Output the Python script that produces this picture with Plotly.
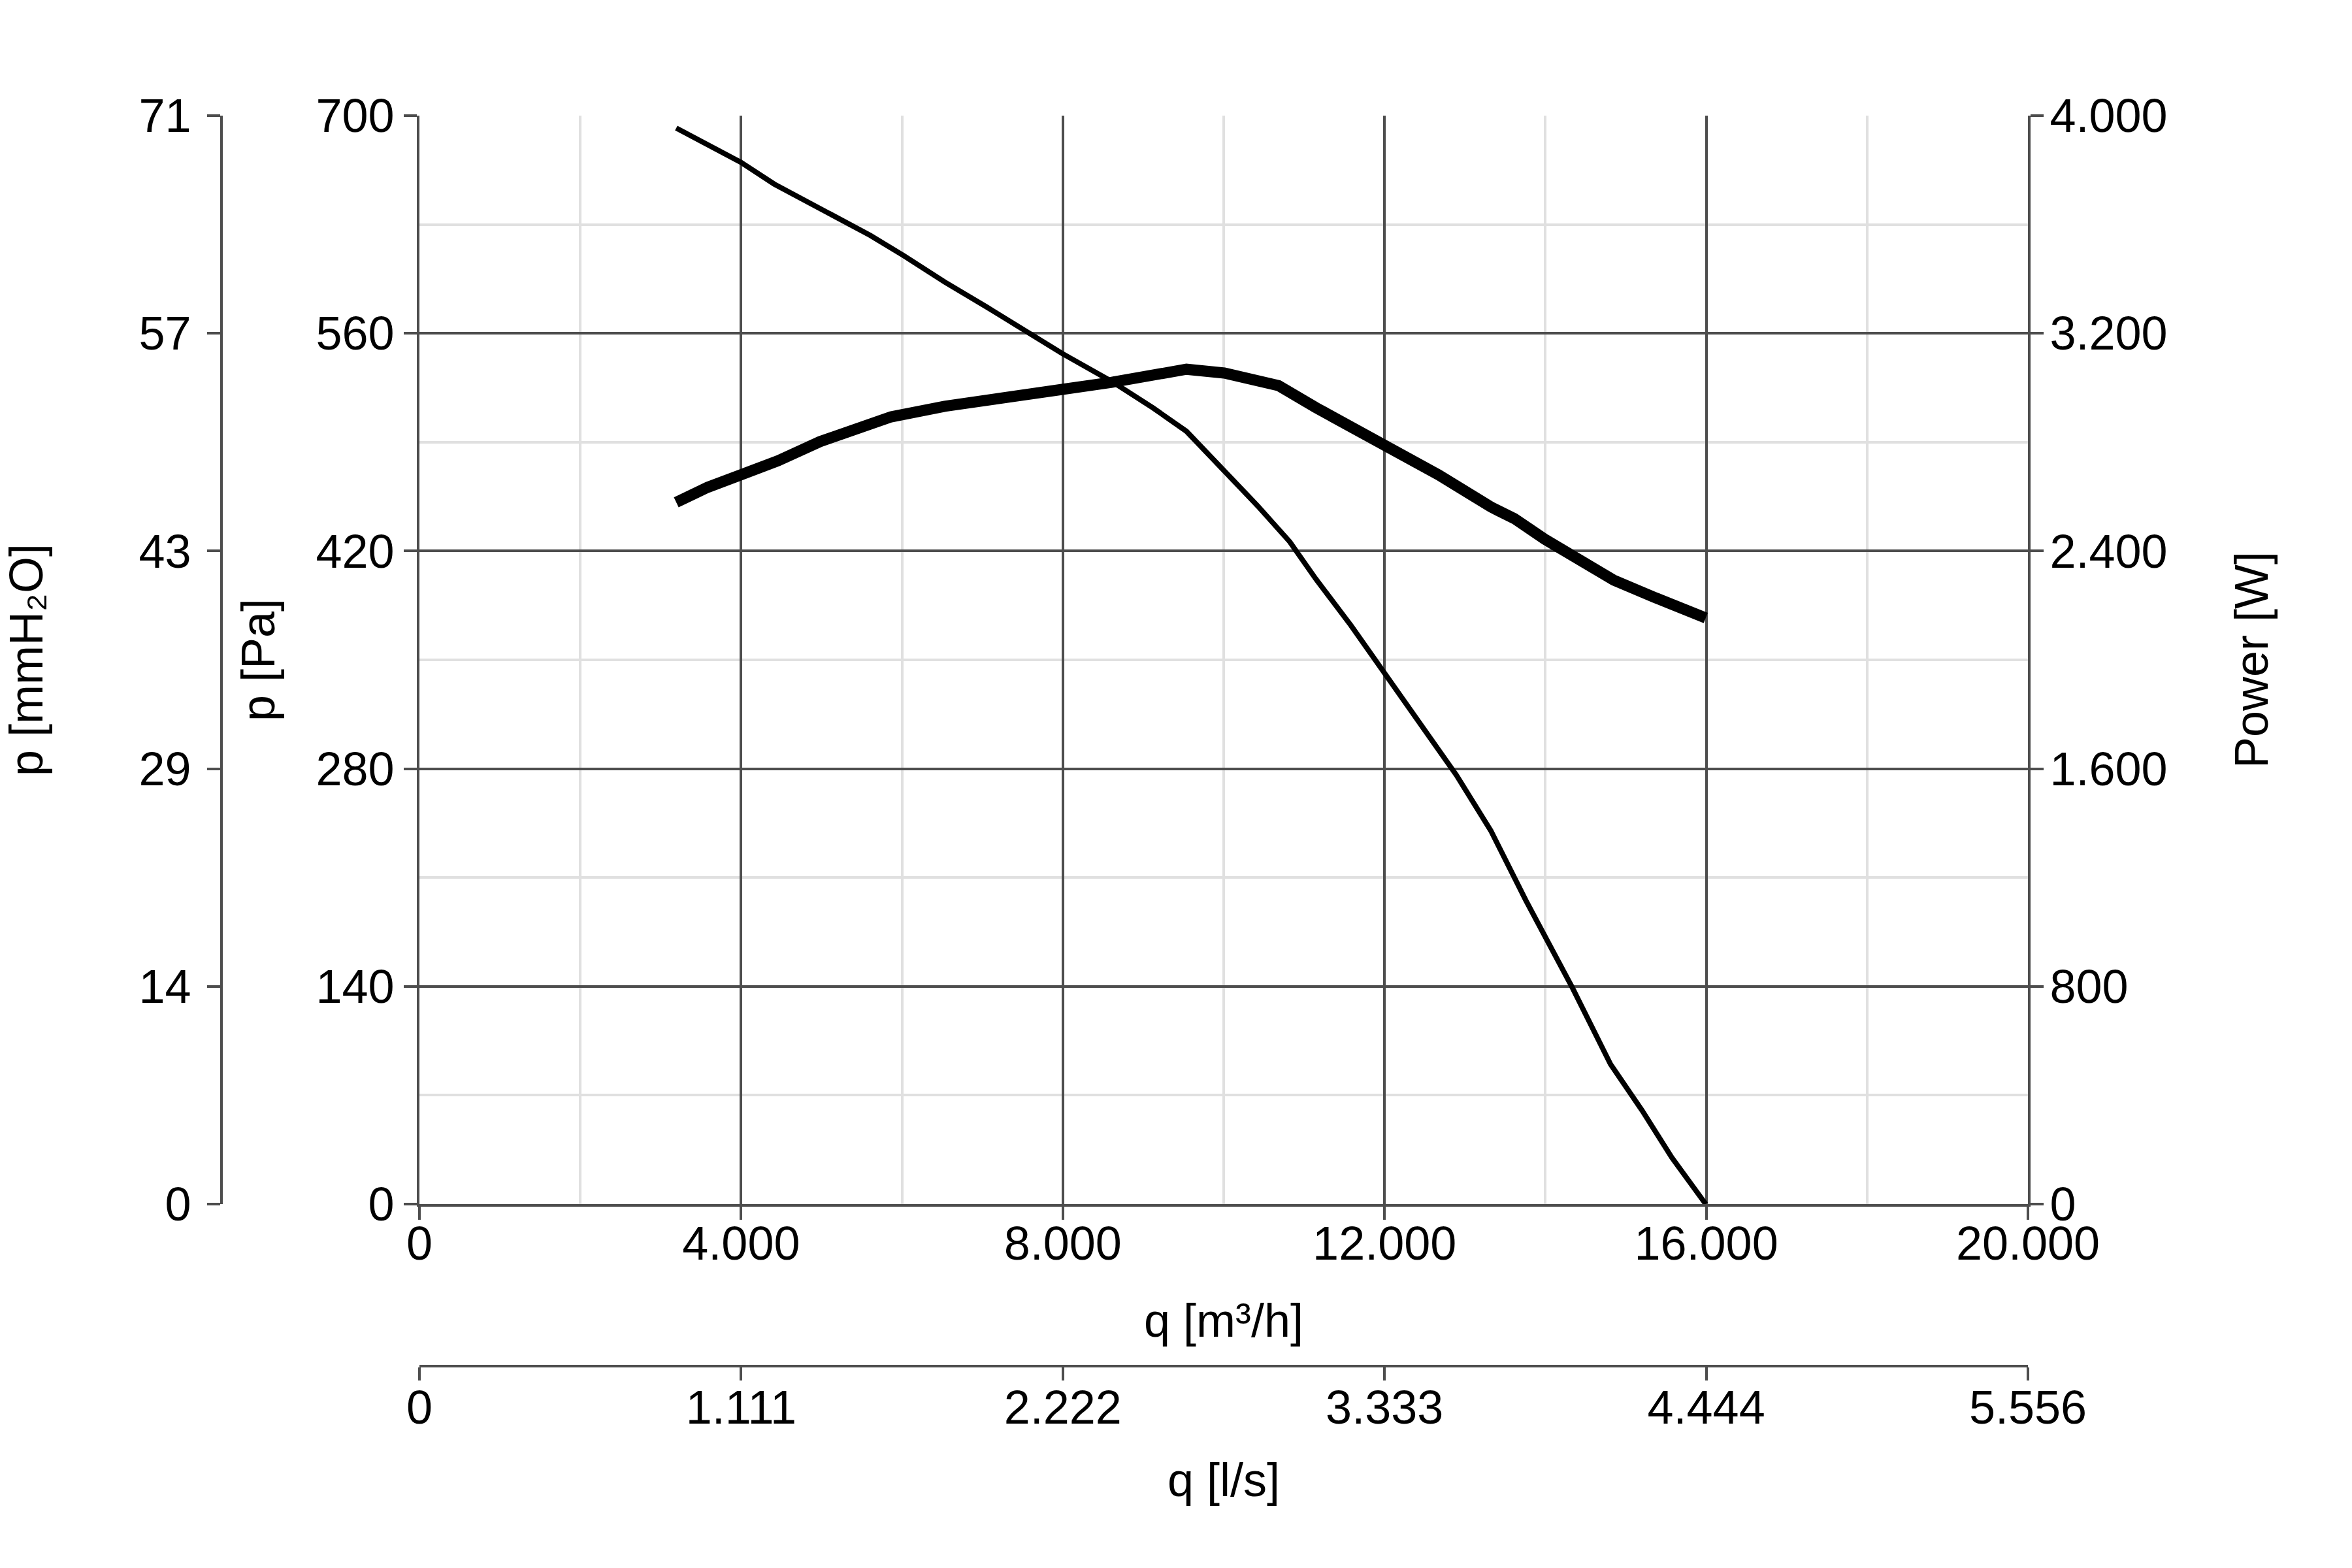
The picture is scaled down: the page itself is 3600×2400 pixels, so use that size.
import plotly.graph_objects as go

# air flow [m3/h] and static pressure [Pa]
q_pressure = [3193, 3477, 3688, 3997, 4411, 4874, 5605, 6019, 6531, 7051, 7571, 7993,
              8610, 9122, 9537, 9984, 10423, 10821, 11146, 11584, 11998, 12453, 12892,
              13323, 13760, 14337, 14809, 15205, 15571, 15994]
pressure_pa = [692, 684, 678, 670, 656, 643, 623, 610, 593, 577, 560, 547,
               529, 512, 497, 473, 449, 426, 402, 372, 342, 308, 276,
               240, 195, 139, 90, 60, 30, 0]

# air flow [m3/h] and absorbed power [W]
q_power = [3193, 3583, 3997, 4460, 4980, 5394, 5865, 6531, 7311, 7993, 8610, 9122,
           9537, 10008, 10682, 11146, 11511, 11998, 12672, 13323, 13615, 13989,
           14850, 15354, 15994]
power_w = [2579, 2634, 2680, 2732, 2802, 2840, 2893, 2932, 2970, 2994, 3020, 3049,
           3068, 3054, 3008, 2927, 2869, 2783, 2680, 2562, 2519, 2444,
           2293, 2230, 2154]

pa_ticks = [0, 140, 280, 420, 560, 700]
mmh2o_labels = ["0", "14", "29", "43", "57", "71"]
power_ticks = [0, 800, 1600, 2400, 3200, 4000]
power_labels = ["0", "800", "1.600", "2.400", "3.200", "4.000"]
q_ticks = [0, 4000, 8000, 12000, 16000, 20000]
q_labels = ["0", "4.000", "8.000", "12.000", "16.000", "20.000"]
ls_labels = ["0", "1.111", "2.222", "3.333", "4.444", "5.556"]

PA_PER_MMH2O = 9.80665
M3H_PER_LS = 3.6
AX = "#4d4d4d"
FONT = dict(family="Liberation Sans, Arial, sans-serif", size=72, color="black")
TFONT = dict(family="Liberation Sans, Arial, sans-serif", size=72, color="black")

fig = go.Figure()
fig.add_trace(go.Scatter(x=q_pressure, y=pressure_pa, mode="lines",
                         line=dict(color="black", width=8), xaxis="x", yaxis="y",
                         showlegend=False))
fig.add_trace(go.Scatter(x=q_power, y=power_w, mode="lines",
                         line=dict(color="black", width=17), xaxis="x", yaxis="y2",
                         showlegend=False))
# same pressure curve in l/s and mmH2O, only so the secondary scales get drawn
fig.add_trace(go.Scatter(x=[v / M3H_PER_LS for v in q_pressure],
                         y=[v / PA_PER_MMH2O for v in pressure_pa], mode="lines",
                         line=dict(color="rgba(0,0,0,0)", width=1), xaxis="x2", yaxis="y3",
                         hoverinfo="skip", showlegend=False))

x_dom = [(642 - 339) / (3104 - 339), 1]
y_dom = [(2091 - 1843) / (2091 - 177), 1]

common = dict(showline=True, linecolor=AX, linewidth=4,
              ticks="outside", ticklen=20, tickwidth=4, tickcolor=AX,
              zeroline=False, automargin=False)

fig.update_layout(
    width=3600, height=2400,
    margin=dict(l=339, r=496, t=177, b=309),
    paper_bgcolor="white", plot_bgcolor="white",
    font=FONT,
    xaxis=dict(domain=x_dom, anchor="y", range=[0, 20000],
               tickvals=q_ticks, ticktext=q_labels, ticklabelstandoff=-25,
               showgrid=True, gridcolor=AX, gridwidth=4,
               minor=dict(dtick=2000, tick0=0, showgrid=True, gridcolor="#e0e0e0", gridwidth=4),
               title=dict(text="q [m³/h]", standoff=54, font=TFONT), **common),
    xaxis2=dict(domain=x_dom, overlaying="x", anchor="free", position=0,
                side="bottom", range=[0, 20000 / M3H_PER_LS],
                tickvals=[v / M3H_PER_LS for v in q_ticks], ticktext=ls_labels,
                ticklabelstandoff=-20, showgrid=False,
                title=dict(text="q [l/s]", standoff=45, font=TFONT), **common),
    yaxis=dict(domain=y_dom, anchor="x", range=[0, 700],
               tickvals=pa_ticks,
               showgrid=True, gridcolor=AX, gridwidth=4,
               minor=dict(dtick=70, tick0=0, showgrid=True, gridcolor="#e0e0e0", gridwidth=4),
               title=dict(text="p [Pa]", standoff=40, font=TFONT), **common),
    yaxis3=dict(overlaying="y", anchor="free", position=0, side="left",
                range=[0, 700 / PA_PER_MMH2O],
                tickvals=[v / PA_PER_MMH2O for v in pa_ticks], ticktext=mmh2o_labels,
                ticklabelstandoff=10, showgrid=False,
                title=dict(text="p [mmH₂O]", standoff=140, font=TFONT), **common),
    yaxis2=dict(overlaying="y", anchor="x", side="right", range=[0, 4000],
                tickvals=power_ticks, ticktext=power_labels,
                ticklabelstandoff=-5, showgrid=False,
                title=dict(text="Power [W]", standoff=105, font=TFONT), **common),
)

fig.write_html("out.html", config={"displayModeBar": False},
               post_script="document.body.style.margin = '0px';")
